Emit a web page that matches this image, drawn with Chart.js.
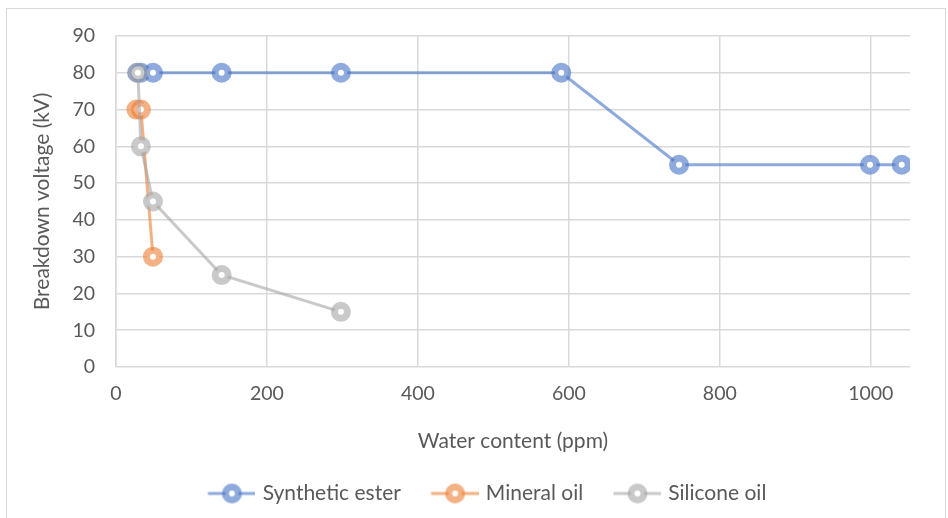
<!DOCTYPE html>
<html>
<head>
<meta charset="utf-8">
<script src="https://cdn.jsdelivr.net/npm/chart.js@4"></script>
<style>
  html, body { margin: 0; padding: 0; background: #fff; }
  #wrap { position: relative; width: 948px; height: 518px; }
  #frame { position: absolute; left: 6px; top: 8px; width: 940px; height: 530px; border: 1.5px solid #D9D9D9; box-sizing: border-box; pointer-events: none; }
  canvas { position: absolute; left: 0; top: 0; }
</style>
</head>
<body>
<div id="wrap">
  <canvas id="c" width="948" height="518"></canvas>
  <div id="frame"></div>
</div>
<script>
// ---- data ----
const seriesNames = ['Synthetic ester', 'Mineral oil', 'Silicone oil'];
const esterX = [28, 33, 49, 140, 298, 590, 746, 999, 1041];
const esterY = [80, 80, 80, 80, 80, 80, 55, 55, 55];
const mineralX = [27, 33, 49];
const mineralY = [70, 70, 30];
const siliconeX = [29, 33, 49, 140, 298];
const siliconeY = [80, 60, 45, 25, 15];
const xTicks = [0, 200, 400, 600, 800, 1000];
const yTicks = [0, 10, 20, 30, 40, 50, 60, 70, 80, 90];

const colors = ['rgba(68,114,196,0.6)', 'rgba(237,125,49,0.6)', 'rgba(165,165,165,0.6)'];
const FONT = 'Lato, "Open Sans", sans-serif';
const TXT = '#595959';
const TICK_SIZE = 19.5;
const TEXT_SIZE = 21;
const LEAD = 13.5;

function pts(xs, ys) { return xs.map((x, i) => ({ x: x, y: ys[i] })); }

function legendIcon(color) {
  const c = document.createElement('canvas');
  c.width = 48 + LEAD; c.height = 22;
  const g = c.getContext('2d');
  const cx = LEAD + 24, cy = 11;
  g.strokeStyle = color; g.lineWidth = 3;
  g.beginPath(); g.moveTo(LEAD, cy); g.lineTo(LEAD + 48, cy); g.stroke();
  g.fillStyle = '#fff';
  g.beginPath(); g.arc(cx, cy, 6.5, 0, Math.PI * 2); g.fill();
  g.lineWidth = 7; g.strokeStyle = color;
  g.beginPath(); g.arc(cx, cy, 6.5, 0, Math.PI * 2); g.stroke();
  return c;
}
const icons = colors.map(c => legendIcon(c));

function ds(i, xs, ys, order) {
  return {
    label: seriesNames[i],
    data: pts(xs, ys),
    borderColor: colors[i],
    backgroundColor: '#fff',
    pointBackgroundColor: '#fff',
    pointBorderColor: colors[i],
    pointStyle: 'circle',
    pointRadius: 6.5,
    pointBorderWidth: 7,
    pointHoverRadius: 6.5,
    borderWidth: 3,
    showLine: true,
    tension: 0,
    order: order
  };
}

new Chart(document.getElementById('c'), {
  type: 'scatter',
  data: {
    datasets: [
      ds(0, esterX, esterY, 3),
      ds(1, mineralX, mineralY, 2),
      ds(2, siliconeX, siliconeY, 1)
    ]
  },
  options: {
    responsive: false,
    animation: false,
    devicePixelRatio: 1,
    layout: { padding: { left: 16, right: 0, top: 36, bottom: 4 } },
    plugins: {
      tooltip: { enabled: false },
      legend: {
        position: 'bottom',
        align: 'center',
        labels: {
          usePointStyle: true,
          pointStyleWidth: 41 + LEAD,
          padding: 20,
          color: TXT,
          font: { family: FONT, size: TEXT_SIZE },
          generateLabels: (chart) => chart.data.datasets.map((d, i) => ({
            text: d.label,
            datasetIndex: i,
            pointStyle: icons[i],
            fillStyle: '#fff',
            strokeStyle: colors[i],
            lineWidth: 0,
            fontColor: TXT,
            hidden: false
          }))
        }
      }
    },
    scales: {
      x: {
        type: 'linear',
        min: 0,
        max: 1052,
        afterFit: (s) => { s.height = 96; },
        ticks: {
          stepSize: 200,
          includeBounds: false,
          padding: 15,
          color: TXT,
          font: { family: FONT, size: TICK_SIZE },
          callback: (v) => xTicks.includes(v) ? String(v) : ''
        },
        grid: { color: '#D9D9D9', lineWidth: 1.5, drawTicks: false },
        border: { display: false },
        title: {
          display: true,
          text: 'Water content (ppm)',
          color: TXT,
          font: { family: FONT, size: TEXT_SIZE },
          padding: { top: 0, bottom: 9.4 }
        }
      },
      y: {
        type: 'linear',
        min: 0,
        max: 90,
        afterFit: (s) => { s.width = 100; },
        ticks: {
          stepSize: 10,
          padding: 21,
          color: TXT,
          font: { family: FONT, size: TICK_SIZE },
          callback: (v) => yTicks.includes(v) ? String(v) : ''
        },
        grid: { color: '#D9D9D9', lineWidth: 1.5, drawTicks: false },
        border: { display: true, color: '#D9D9D9', width: 1.5 },
        title: {
          display: true,
          text: 'Breakdown voltage (kV)',
          color: TXT,
          font: { family: FONT, size: TEXT_SIZE },
          padding: { top: 14, bottom: 0 }
        }
      },
      yRightSpace: {
        type: 'linear',
        position: 'right',
        display: true,
        afterFit: (s) => { s.width = 38; },
        ticks: { display: false },
        grid: { display: false, drawTicks: false },
        border: { display: false },
        title: { display: false }
      }
    }
  }
});
</script>
</body>
</html>
